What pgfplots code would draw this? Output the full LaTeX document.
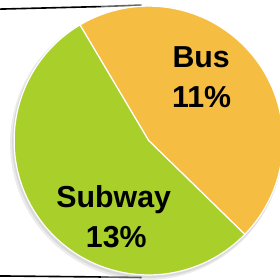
\documentclass[border=0pt]{standalone}
\usepackage{pgfplots}
\usepackage{pgfplotstable}
\pgfplotsset{compat=1.18}
\usepackage{fontspec}
\setmainfont{Liberation Sans}
\definecolor{busc}{RGB}{245,190,66}
\definecolor{subc}{RGB}{168,207,42}
\pgfplotstableread{
label value
Bus 11
Subway 13
}\piedata
\begin{document}
\begin{tikzpicture}
\pgfplotstablegetelem{0}{value}\of\piedata \edef\busv{\pgfplotsretval}
\pgfplotstablegetelem{1}{value}\of\piedata \edef\subv{\pgfplotsretval}
\pgfmathsetmacro{\tot}{\busv+\subv}
\pgfmathsetmacro{\astart}{-44.3}
\pgfmathsetmacro{\amid}{\astart+360*\busv/\tot}
\pgfmathsetmacro{\aend}{\amid+360*\subv/\tot}
\begin{axis}[
  scale only axis, width=277bp, height=280bp,
  xmin=0, xmax=277, ymin=0, ymax=280,
  axis lines=none, clip=true,
]
% frame lines behind the pie
\draw[line width=1.6bp, black] (axis cs:0,271) -- (axis cs:100,273.5);
\draw[line width=1.6bp, black!60] (axis cs:100,273.5) -- (axis cs:140,275);
\draw[line width=1.6bp, black] (axis cs:0,7) -- (axis cs:100,6);
\draw[line width=1.6bp, black!60] (axis cs:100,6) -- (axis cs:140,5.5);
% shadow
\fill[black, opacity=0.08] (axis cs:145,138) circle[radius=135bp];
\fill[black, opacity=0.08] (axis cs:146,139) circle[radius=134bp];
% slices
\fill[busc, draw=white, line width=1.2bp] (axis cs:147,141) -- ++(\astart:133bp) arc[start angle=\astart, end angle=\amid, radius=133bp] -- cycle;
\fill[subc, draw=white, line width=1.2bp] (axis cs:147,141) -- ++(\amid:133bp) arc[start angle=\amid, end angle=\aend, radius=133bp] -- cycle;
% labels
\node[anchor=base, font=\fontsize{30bp}{36bp}\selectfont\bfseries, inner sep=0pt] at (axis cs:199,213) {Bus};
\node[anchor=base, font=\fontsize{30bp}{36bp}\selectfont\bfseries, inner sep=0pt] at (axis cs:199.5,174) {\busv\%};
\node[anchor=base, font=\fontsize{30bp}{36bp}\selectfont\bfseries, inner sep=0pt] at (axis cs:112.5,75) {Subway};
\node[anchor=base, font=\fontsize{30bp}{36bp}\selectfont\bfseries, inner sep=0pt] at (axis cs:115,35) {\subv\%};
\end{axis}
\end{tikzpicture}
\end{document}
